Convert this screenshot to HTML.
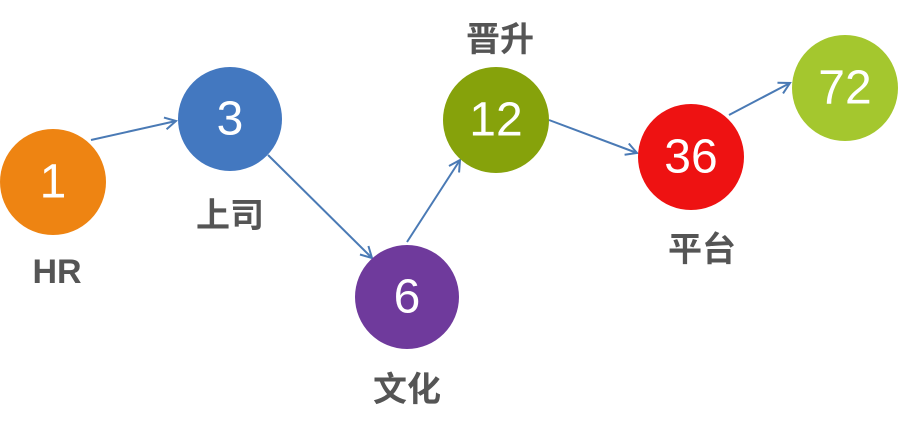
<!DOCTYPE html>
<html><head><meta charset="utf-8"><style>
html,body{margin:0;padding:0;background:#fff;width:910px;height:437px;overflow:hidden}
svg{display:block}
.n{font-family:"Liberation Sans","DejaVu Sans",sans-serif;font-size:48px;fill:#fff;text-anchor:middle;dominant-baseline:central}
.l{font-family:"Liberation Sans","Noto Sans CJK SC",sans-serif;font-size:34px;font-weight:bold;fill:#555;text-anchor:middle;dominant-baseline:central}
</style></head><body>
<svg width="910" height="437" viewBox="0 0 910 437">
<defs><marker id="a" markerWidth="14" markerHeight="14" refX="12" refY="7" orient="auto" markerUnits="userSpaceOnUse">
<path d="M1,1 L12,7 L1,13" fill="none" stroke="#4a7ab5" stroke-width="2"/></marker></defs>
<g stroke="#4a7ab5" stroke-width="2" fill="none" marker-end="url(#a)">
<line x1="91" y1="140" x2="176" y2="121"/>
<line x1="268" y1="155" x2="372" y2="258"/>
<line x1="407" y1="242" x2="460" y2="160"/>
<line x1="549" y1="120" x2="637" y2="153"/>
<line x1="729" y1="115" x2="790" y2="83"/>
</g>
<circle cx="53" cy="182" r="53" fill="#ee8412"/>
<circle cx="230" cy="119" r="52" fill="#4378c0"/>
<circle cx="407" cy="297" r="52" fill="#6f3a9c"/>
<circle cx="496" cy="120" r="53" fill="#86a20b"/>
<circle cx="691" cy="157" r="53" fill="#ee1212"/>
<circle cx="845" cy="88" r="53" fill="#a4c72e"/>
<text class="n" x="53" y="182">1</text>
<text class="n" x="230" y="119">3</text>
<text class="n" x="407" y="297">6</text>
<text class="n" x="496" y="120">12</text>
<text class="n" x="691" y="157">36</text>
<text class="n" x="845" y="88">72</text>
<text class="l" x="57" y="272">HR</text>
<text class="l" x="230" y="216">上司</text>
<text class="l" x="407" y="390">文化</text>
<text class="l" x="500" y="40">晋升</text>
<text class="l" x="702" y="250">平台</text>
</svg>
</body></html>
